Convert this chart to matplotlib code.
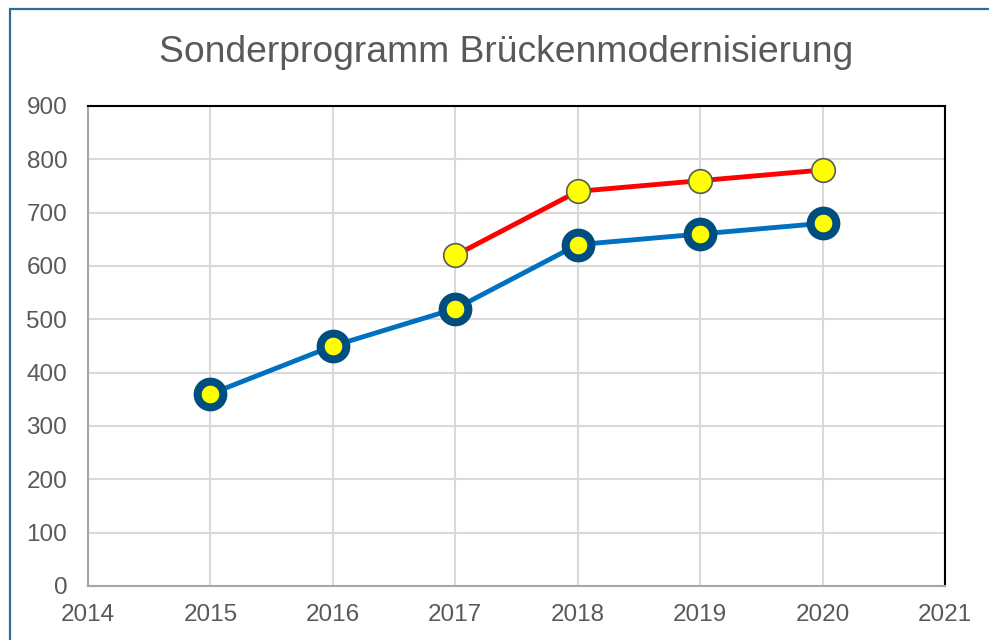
import matplotlib.pyplot as plt
from matplotlib.patches import Rectangle

# data
years_a = [2015, 2016, 2017, 2018, 2019, 2020]
values_a = [360, 450, 520, 640, 660, 680]
years_b = [2017, 2018, 2019, 2020]
values_b = [620, 740, 760, 780]
title = 'Sonderprogramm Brückenmodernisierung'

plt.rcParams['font.family'] = ['Liberation Sans', 'DejaVu Sans']
text_grey = '#595959'

fig = plt.figure(figsize=(9.89, 6.4), dpi=100)
ax = fig.add_axes([88 / 989, 54 / 640, 857 / 989, 480 / 640])

# outer chart frame
fig.patches.append(Rectangle((10 / 989, -0.05), 1.2, 1 - 9 / 640 + 0.05,
                             transform=fig.transFigure, fill=False,
                             edgecolor='#2F6D9A', linewidth=1.6))

ax.plot(years_b, values_b, '-o', color='#FF0000', linewidth=3.5,
        markersize=17, markerfacecolor='#FFFF00', markeredgecolor=text_grey,
        markeredgewidth=1.2, zorder=3)
ax.plot(years_a, values_a, '-o', color='#0070C0', linewidth=3.5,
        markersize=18.5, markerfacecolor='#FFFF00', markeredgecolor='#004D80',
        markeredgewidth=5.8, zorder=4)

ax.set_xlim(2014, 2021)
ax.set_ylim(0, 900)
ax.set_xticks(range(2014, 2022))
ax.set_yticks(range(0, 901, 100))
ax.grid(True, color='#D9D9D9', linewidth=1.5)
ax.set_axisbelow(True)
ax.tick_params(length=0, labelsize=17.5, labelcolor=text_grey)
ax.tick_params(axis='y', pad=15)
ax.tick_params(axis='x', pad=13)

for side in ['top', 'right']:
    ax.spines[side].set_color('black')
    ax.spines[side].set_linewidth(1.5)
for side in ['left', 'bottom']:
    ax.spines[side].set_color('#A6A6A6')
    ax.spines[side].set_linewidth(1.5)

fig.text(506 / 989, 1 - 52 / 640, title, ha='center', va='center',
         fontsize=26.8, color=text_grey)

fig.savefig('out.png', dpi=100)
